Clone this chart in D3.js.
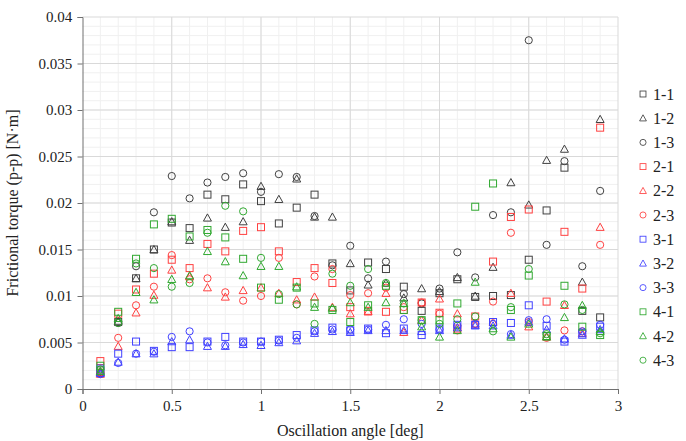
<!DOCTYPE html>
<html>
<head>
<meta charset="utf-8">
<script src="https://cdn.jsdelivr.net/npm/d3@7"></script>
<style>
  body { margin: 0; background: #fff; }
  text { font-family: "Liberation Serif", "Times New Roman", serif; }
</style>
</head>
<body>
<svg id="chart" width="686" height="441"></svg>
<script>
// angles 0.1 .. 2.9
const angles = [0.1,0.2,0.3,0.4,0.5,0.6,0.7,0.8,0.9,1.0,1.1,1.2,1.3,1.4,1.5,1.6,1.7,1.8,1.9,2.0,2.1,2.2,2.3,2.4,2.5,2.6,2.7,2.8,2.9];

const s11 = [0.0020,0.0072,0.0119,0.0150,0.0179,0.0173,0.0209,0.0204,0.0220,0.0202,0.0178,0.0195,0.0209,0.0135,0.0106,0.0136,0.0129,0.0110,0.0084,0.0103,0.0118,0.0099,0.0100,0.0101,0.0139,0.0192,0.0238,0.0084,0.0077];
const s12 = [0.0018,0.0073,0.0119,0.0150,0.0180,0.0160,0.0184,0.0174,0.0180,0.0218,0.0204,0.0226,0.0185,0.0185,0.0135,0.0112,0.0114,0.0098,0.0108,0.0105,0.0120,0.0100,0.0131,0.0222,0.0198,0.0246,0.0258,0.0115,0.0290];
const s13 = [0.0017,0.0071,0.0132,0.0190,0.0229,0.0205,0.0222,0.0228,0.0232,0.0212,0.0231,0.0228,0.0186,0.0133,0.0154,0.0119,0.0137,0.0102,0.0092,0.0108,0.0147,0.0120,0.0187,0.0190,0.0375,0.0155,0.0245,0.0132,0.0213];
const s21 = [0.0030,0.0081,0.0107,0.0124,0.0139,0.0130,0.0156,0.0148,0.0170,0.0174,0.0148,0.0115,0.0130,0.0114,0.0088,0.0084,0.0083,0.0085,0.0093,0.0082,0.0065,0.0078,0.0137,0.0185,0.0193,0.0094,0.0169,0.0108,0.0281];
const s22 = [0.0016,0.0046,0.0082,0.0101,0.0128,0.0121,0.0109,0.0099,0.0106,0.0109,0.0103,0.0096,0.0099,0.0088,0.0081,0.0083,0.0103,0.0061,0.0074,0.0097,0.0081,0.0070,0.0072,0.0103,0.0067,0.0056,0.0090,0.0060,0.0174];
const s23 = [0.0018,0.0055,0.0090,0.0110,0.0144,0.0118,0.0119,0.0104,0.0095,0.0100,0.0141,0.0091,0.0121,0.0129,0.0101,0.0103,0.0109,0.0088,0.0093,0.0081,0.0063,0.0070,0.0094,0.0168,0.0072,0.0055,0.0063,0.0062,0.0155];
const s31 = [0.0022,0.0038,0.0051,0.0041,0.0045,0.0045,0.0051,0.0056,0.0051,0.0051,0.0053,0.0058,0.0063,0.0066,0.0063,0.0065,0.0060,0.0065,0.0058,0.0065,0.0069,0.0069,0.0072,0.0071,0.0090,0.0068,0.0051,0.0060,0.0067];
const s32 = [0.0017,0.0029,0.0038,0.0038,0.0051,0.0053,0.0046,0.0046,0.0048,0.0047,0.0050,0.0052,0.0060,0.0062,0.0061,0.0063,0.0063,0.0063,0.0062,0.0063,0.0066,0.0068,0.0068,0.0058,0.0072,0.0064,0.0054,0.0058,0.0064];
const s33 = [0.0016,0.0028,0.0038,0.0040,0.0056,0.0062,0.0050,0.0047,0.0050,0.0051,0.0052,0.0055,0.0062,0.0064,0.0064,0.0064,0.0069,0.0075,0.0070,0.0064,0.0068,0.0070,0.0070,0.0059,0.0074,0.0075,0.0053,0.0062,0.0069];
const s41 = [0.0025,0.0083,0.0140,0.0177,0.0183,0.0164,0.0171,0.0163,0.0140,0.0109,0.0096,0.0109,0.0092,0.0085,0.0072,0.0090,0.0111,0.0085,0.0074,0.0074,0.0092,0.0196,0.0221,0.0085,0.0122,0.0057,0.0111,0.0067,0.0058];
const s42 = [0.0019,0.0076,0.0104,0.0096,0.0118,0.0122,0.0148,0.0137,0.0122,0.0132,0.0132,0.0110,0.0088,0.0087,0.0093,0.0088,0.0093,0.0092,0.0067,0.0056,0.0063,0.0115,0.0065,0.0056,0.0070,0.0056,0.0077,0.0090,0.0062];
const s43 = [0.0021,0.0071,0.0135,0.0130,0.0110,0.0114,0.0168,0.0197,0.0191,0.0141,0.0102,0.0091,0.0070,0.0124,0.0111,0.0129,0.0114,0.0092,0.0074,0.0070,0.0075,0.0078,0.0062,0.0088,0.0129,0.0059,0.0091,0.0085,0.0060];

const seriesNames = ["1-1","1-2","1-3","2-1","2-2","2-3","3-1","3-2","3-3","4-1","4-2","4-3"];
const seriesValues = [s11,s12,s13,s21,s22,s23,s31,s32,s33,s41,s42,s43];
const xTicks = [0,0.5,1,1.5,2,2.5,3];
const yTicks = [0,0.005,0.01,0.015,0.02,0.025,0.03,0.035,0.04];

const colors = ["#404040","#ff4040","#4040ff","#30a830"];
const shapes = ["square","triangle","circle"];

const svg = d3.select("#chart");
const margin = { left: 82.5, right: 68, top: 17, bottom: 52 };
const W = 686, H = 441;
const serif = "'Liberation Serif', 'Times New Roman', serif";

const x = d3.scaleLinear().domain([0,3]).range([margin.left, W - margin.right]);
const y = d3.scaleLinear().domain([0,0.04]).range([H - margin.bottom, margin.top]);

// minor grid
const g = svg.append("g");
g.selectAll(".mx").data(d3.range(1,30).map(d => d/10)).enter().append("line")
  .attr("x1", d => x(d)).attr("x2", d => x(d))
  .attr("y1", y(0)).attr("y2", y(0.04))
  .style("stroke", "#f0f0f0").style("stroke-width", 1);
g.selectAll(".my").data(d3.range(1,40).map(d => d/1000)).enter().append("line")
  .attr("x1", x(0)).attr("x2", x(3))
  .attr("y1", d => y(d)).attr("y2", d => y(d))
  .style("stroke", "#f0f0f0").style("stroke-width", 1);
// major grid
g.selectAll(".Mx").data(xTicks.slice(1)).enter().append("line")
  .attr("x1", d => x(d)).attr("x2", d => x(d))
  .attr("y1", y(0)).attr("y2", y(0.04))
  .style("stroke", "#d9d9d9").style("stroke-width", 1);
g.selectAll(".My").data(yTicks.slice(1)).enter().append("line")
  .attr("x1", x(0)).attr("x2", x(3))
  .attr("y1", d => y(d)).attr("y2", d => y(d))
  .style("stroke", "#d9d9d9").style("stroke-width", 1);

// axes
const xAxis = d3.axisBottom(x).tickValues(xTicks).tickSize(5).tickFormat(d3.format("~g"));
const yAxis = d3.axisLeft(y).tickValues(yTicks).tickSize(5).tickFormat(d3.format("~g"));

const gx = svg.append("g").attr("transform", `translate(0, ${y(0)})`).call(xAxis);
const gy = svg.append("g").attr("transform", `translate(${x(0)}, 0)`).call(yAxis);
[gx, gy].forEach(a => {
  a.attr("font-family", serif).attr("font-size", 15);
  a.select(".domain").style("stroke", "#707070");
  a.selectAll(".tick line").style("stroke", "#707070");
  a.selectAll(".tick text").style("font-size", "15px").style("fill", "#222")
    .style("font-family", serif);
});
gx.selectAll(".tick text").attr("dy", "0.9em");
gy.selectAll(".tick text").attr("dx", "-0.15em");

// titles
svg.append("text").attr("x", (x(0) + x(3)) / 2).attr("y", 436)
  .attr("text-anchor", "middle").style("font-size", "16px").style("fill", "#222")
  .text("Oscillation angle [deg]");
svg.append("text").attr("transform", `translate(18, ${(y(0) + y(0.04)) / 2}) rotate(-90)`)
  .attr("text-anchor", "middle").style("font-size", "16px").style("fill", "#222")
  .text("Frictional torque (p-p) [N·m]");

// markers
function marker(sel, shape, color) {
  if (shape === "square") {
    sel.append("rect").attr("x", -3.5).attr("y", -3.5).attr("width", 7).attr("height", 7)
      .style("fill", "none").style("stroke", color).style("stroke-width", 1);
  } else if (shape === "triangle") {
    sel.append("path").attr("d", "M0,-4L4,3.2L-4,3.2Z")
      .style("fill", "none").style("stroke", color).style("stroke-width", 1);
  } else {
    sel.append("circle").attr("r", 3.6)
      .style("fill", "none").style("stroke", color).style("stroke-width", 1);
  }
}

const plot = svg.append("g");
seriesValues.forEach((vals, i) => {
  const color = colors[Math.floor(i / 3)], shape = shapes[i % 3];
  const pts = plot.append("g").selectAll("g").data(vals).enter().append("g")
    .attr("transform", (d, j) => `translate(${x(angles[j])}, ${y(d)})`);
  marker(pts, shape, color);
});

// legend
const leg = svg.append("g");
seriesNames.forEach((name, i) => {
  const row = leg.append("g").attr("transform", `translate(643, ${94 + i * 24.2})`);
  const color = colors[Math.floor(i / 3)], shape = shapes[i % 3];
  const m = row.append("g").attr("transform", "scale(0.85)");
  marker(m, shape, color);
  row.append("text").attr("x", 10).attr("y", 5.5).style("font-size", "16px").style("fill", "#222").text(name);
});
</script>
</body>
</html>
